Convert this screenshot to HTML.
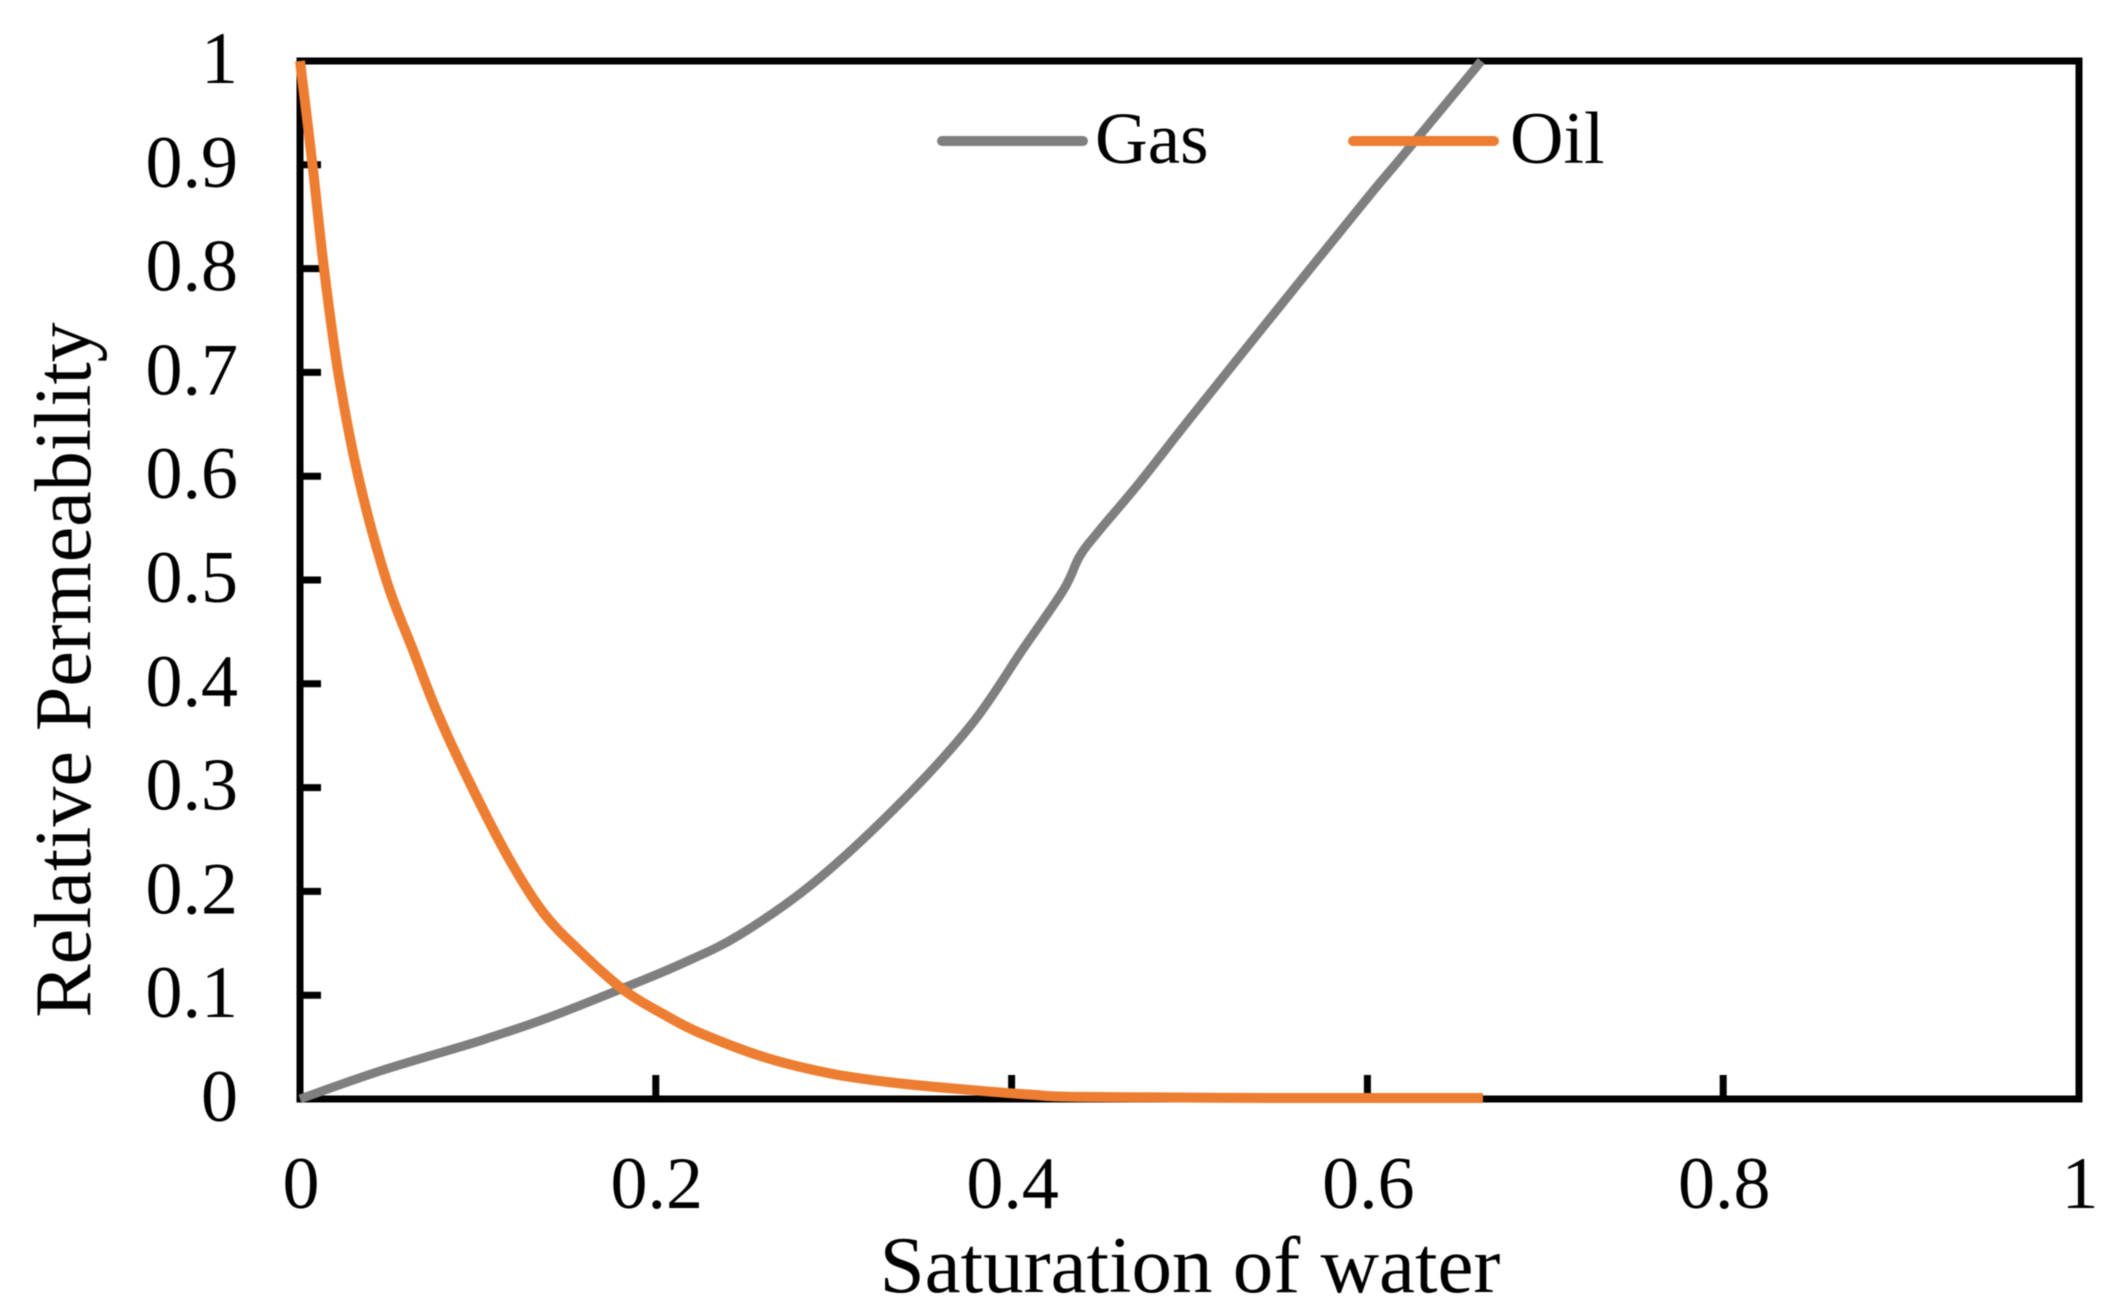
<!DOCTYPE html>
<html>
<head>
<meta charset="utf-8">
<title>Relative Permeability</title>
<style>
html,body{margin:0;padding:0;background:#fff;width:2109px;height:1314px;overflow:hidden}
svg{display:block;font-family:"Liberation Serif",serif;fill:#000;filter:blur(0.6px)}
</style>
</head>
<body>
<svg id="chart" xmlns="http://www.w3.org/2000/svg" width="2109" height="1314" viewBox="0 0 2109 1314">
  <rect x="300" y="61" width="1779" height="1038" fill="none" stroke="#000" stroke-width="7"/>
  <g id="ticks"></g>
  <g id="series"></g>
  <text transform="translate(90 670) rotate(-90)" text-anchor="middle" font-size="80">Relative Permeability</text>
  <text x="1190" y="1292" text-anchor="middle" font-size="81">Saturation of water</text>
  <g>
    <line x1="942" y1="141" x2="1083" y2="141" stroke="#7f7f7f" stroke-width="10" stroke-linecap="round"/>
    <text x="1095" y="163" font-size="73">Gas</text>
    <line x1="1353" y1="141" x2="1494" y2="141" stroke="#ed7d31" stroke-width="10" stroke-linecap="round"/>
    <text x="1510" y="163" font-size="74">Oil</text>
  </g>
</svg>
<script>
const xTickValues = [0, 0.2, 0.4, 0.6, 0.8, 1];
const xTickLabels = ['0', '0.2', '0.4', '0.6', '0.8', '1'];
const yTickValues = [0, 0.1, 0.2, 0.3, 0.4, 0.5, 0.6, 0.7, 0.8, 0.9, 1];
const yTickLabels = ['0', '0.1', '0.2', '0.3', '0.4', '0.5', '0.6', '0.7', '0.8', '0.9', '1'];
const gasX = [0, 0.045, 0.101, 0.139, 0.182, 0.214, 0.247, 0.29, 0.339, 0.378, 0.406, 0.429, 0.438, 0.448, 0.472, 0.5, 0.55, 0.6, 0.622, 0.664];
const gasY = [0, 0.027, 0.056, 0.078, 0.107, 0.13, 0.158, 0.21, 0.288, 0.362, 0.4325, 0.49, 0.522, 0.545, 0.594, 0.655, 0.762, 0.868, 0.913, 1];
const oilX = [0, 0.007, 0.0135, 0.0215, 0.0327, 0.0485, 0.0635, 0.077, 0.0956, 0.118, 0.137, 0.157, 0.182, 0.204, 0.225, 0.2625, 0.3, 0.337, 0.375, 0.412, 0.44, 0.55, 0.665];
const oilY = [1, 0.9, 0.8, 0.7, 0.6, 0.5, 0.4325, 0.373, 0.304, 0.23, 0.179, 0.143, 0.105, 0.082, 0.0635, 0.0395, 0.024, 0.015, 0.009, 0.004, 0.002, 0.001, 0.001];

const NS = 'http://www.w3.org/2000/svg';
const plotLeft = 300, plotRight = 2079, plotTop = 61, plotBottom = 1099, tickLength = 21;
function xScale(v) { return plotLeft + v * (plotRight - plotLeft); }
function yScale(v) { return plotBottom - v * (plotBottom - plotTop); }

const ticksGroup = document.getElementById('ticks');
const seriesGroup = document.getElementById('series');

xTickValues.forEach(function (v, i) {
  const px = xScale(v);
  if (v > 0 && v < 1) {
    const t = document.createElementNS(NS, 'line');
    
    
    t.setAttribute('x1', px); t.setAttribute('x2', px);
    t.setAttribute('y1', plotBottom); t.setAttribute('y2', plotBottom - tickLength - 3);
    t.setAttribute('stroke', '#000'); t.setAttribute('stroke-width', 7);
    ticksGroup.appendChild(t);
  }
  const l = document.createElementNS(NS, 'text');
  
  
  l.setAttribute('x', px + 1); l.setAttribute('y', 1208);
  l.setAttribute('text-anchor', 'middle'); l.setAttribute('font-size', 74);
  l.textContent = xTickLabels[i];
  ticksGroup.appendChild(l);
});

yTickValues.forEach(function (v, i) {
  const py = yScale(v);
  if (v > 0 && v < 1) {
    const t = document.createElementNS(NS, 'line');
    
    
    t.setAttribute('x1', plotLeft); t.setAttribute('x2', plotLeft + tickLength);
    t.setAttribute('y1', py); t.setAttribute('y2', py);
    t.setAttribute('stroke', '#000'); t.setAttribute('stroke-width', 7);
    ticksGroup.appendChild(t);
  }
  const l = document.createElementNS(NS, 'text');
  
  
  l.setAttribute('x', 238); l.setAttribute('y', py + 22);
  l.setAttribute('text-anchor', 'end'); l.setAttribute('font-size', 74);
  l.textContent = yTickLabels[i];
  ticksGroup.appendChild(l);
});

function smoothPath(xs, ys) {
  const p = xs.map(function (x, i) { return [xScale(x), yScale(ys[i])]; });
  let d = 'M' + p[0][0].toFixed(1) + ' ' + p[0][1].toFixed(1);
  for (let i = 0; i < p.length - 1; i++) {
    const a = p[Math.max(i - 1, 0)], b = p[i], c = p[i + 1], e = p[Math.min(i + 2, p.length - 1)];
    const c1x = b[0] + (c[0] - a[0]) / 6, c1y = b[1] + (c[1] - a[1]) / 6;
    const c2x = c[0] - (e[0] - b[0]) / 6, c2y = c[1] - (e[1] - b[1]) / 6;
    d += 'C' + c1x.toFixed(1) + ' ' + c1y.toFixed(1) + ' ' + c2x.toFixed(1) + ' ' + c2y.toFixed(1) + ' ' + c[0].toFixed(1) + ' ' + c[1].toFixed(1);
  }
  return d;
}

const gasLine = document.createElementNS(NS, 'path');


gasLine.setAttribute('d', smoothPath(gasX, gasY));
gasLine.setAttribute('fill', 'none');
gasLine.setAttribute('stroke', '#7f7f7f');
gasLine.setAttribute('stroke-width', 9);
seriesGroup.appendChild(gasLine);

const oilLine = document.createElementNS(NS, 'path');


oilLine.setAttribute('d', smoothPath(oilX, oilY));
oilLine.setAttribute('fill', 'none');
oilLine.setAttribute('stroke', '#ed7d31');
oilLine.setAttribute('stroke-width', 10);
seriesGroup.appendChild(oilLine);
</script>
</body>
</html>
